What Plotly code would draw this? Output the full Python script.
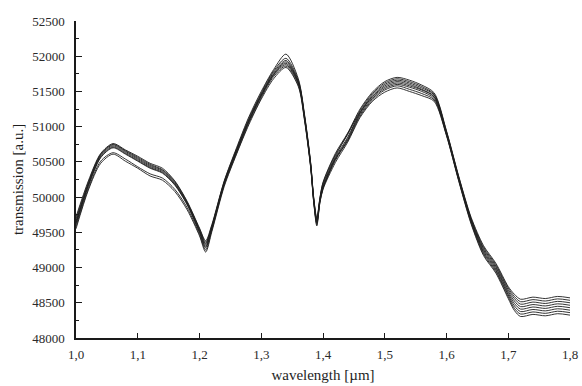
import plotly.graph_objects as go

wavelength = [1.00, 1.02, 1.04, 1.06, 1.08, 1.10, 1.12, 1.14, 1.16, 1.18,
              1.20, 1.21, 1.22, 1.24, 1.26, 1.28, 1.30, 1.32, 1.34, 1.36,
              1.37, 1.38, 1.385, 1.39, 1.395, 1.40, 1.42, 1.44, 1.46, 1.48,
              1.50, 1.52, 1.54, 1.56, 1.58, 1.60, 1.62, 1.64, 1.66, 1.68,
              1.70, 1.71, 1.72, 1.74, 1.76, 1.78, 1.80]

s1 = [49720, 50230, 50620, 50760, 50670, 50580, 50480, 50410, 50230, 49940,
      49560, 49380, 49610, 50230, 50700, 51140, 51500, 51810, 52030, 51680,
      51180, 50490, 49990, 49700, 49990, 50210, 50620, 50910, 51250, 51490,
      51640, 51700, 51660, 51590, 51480, 50940, 50290, 49710, 49310, 49060,
      48730, 48620, 48550, 48580, 48560, 48590, 48570]
s2 = [49690, 50210, 50610, 50750, 50660, 50565, 50465, 50390, 50220, 49930,
      49550, 49360, 49595, 50220, 50685, 51120, 51480, 51790, 51970, 51660,
      51160, 50480, 49980, 49680, 49980, 50200, 50600, 50890, 51230, 51470,
      51620, 51680, 51640, 51570, 51460, 50930, 50280, 49695, 49290, 49040,
      48710, 48590, 48515, 48545, 48525, 48555, 48535]
s3 = [49660, 50190, 50600, 50740, 50650, 50550, 50450, 50380, 50205, 49920,
      49535, 49340, 49580, 50210, 50670, 51100, 51460, 51770, 51940, 51640,
      51150, 50470, 49970, 49670, 49970, 50180, 50580, 50900, 51210, 51450,
      51600, 51660, 51620, 51550, 51450, 50920, 50270, 49680, 49270, 49020,
      48685, 48560, 48480, 48510, 48490, 48520, 48500]
s4 = [49640, 50180, 50585, 50725, 50635, 50535, 50435, 50365, 50190, 49910,
      49520, 49320, 49570, 50200, 50660, 51090, 51450, 51750, 51920, 51630,
      51140, 50460, 49960, 49650, 49960, 50160, 50560, 50850, 51200, 51430,
      51580, 51640, 51600, 51530, 51430, 50910, 50260, 49670, 49250, 49000,
      48660, 48525, 48445, 48475, 48455, 48485, 48465]
s5 = [49630, 50170, 50570, 50710, 50620, 50520, 50420, 50350, 50180, 49900,
      49510, 49300, 49560, 50190, 50650, 51080, 51440, 51740, 51900, 51620,
      51130, 50450, 49950, 49640, 49950, 50140, 50540, 50830, 51190, 51420,
      51560, 51620, 51580, 51520, 51420, 50900, 50250, 49660, 49230, 48980,
      48635, 48490, 48410, 48440, 48420, 48450, 48430]
s6 = [49610, 50150, 50560, 50700, 50610, 50510, 50410, 50340, 50170, 49890,
      49495, 49280, 49550, 50180, 50640, 51070, 51430, 51730, 51880, 51610,
      51120, 50440, 49940, 49630, 49940, 50130, 50520, 50810, 51170, 51400,
      51540, 51600, 51560, 51500, 51400, 50890, 50240, 49645, 49210, 48960,
      48610, 48455, 48375, 48405, 48385, 48415, 48395]
s7 = [49580, 50120, 50510, 50630, 50540, 50430, 50330, 50270, 50110, 49850,
      49470, 49250, 49530, 50170, 50620, 51050, 51410, 51710, 51860, 51590,
      51110, 50430, 49930, 49610, 49930, 50120, 50540, 50800, 51150, 51380,
      51520, 51580, 51530, 51470, 51380, 50880, 50230, 49630, 49190, 48940,
      48585, 48420, 48340, 48370, 48350, 48380, 48360]
s8 = [49550, 50100, 50480, 50610, 50510, 50410, 50300, 50240, 50080, 49820,
      49450, 49220, 49510, 50150, 50610, 51030, 51390, 51680, 51840, 51570,
      51090, 50420, 49920, 49590, 49920, 50110, 50490, 50780, 51130, 51360,
      51490, 51550, 51500, 51440, 51360, 50870, 50220, 49615, 49170, 48920,
      48560, 48390, 48305, 48335, 48315, 48345, 48325]

x_tick_vals = [1.0, 1.1, 1.2, 1.3, 1.4, 1.5, 1.6, 1.7, 1.8]
x_tick_text = ["1,0", "1,1", "1,2", "1,3", "1,4", "1,5", "1,6", "1,7", "1,8"]
y_tick_vals = [48000, 48500, 49000, 49500, 50000, 50500, 51000, 51500, 52000, 52500]

fig = go.Figure()
for s in [s1, s2, s3, s4, s5, s6, s7, s8]:
    fig.add_trace(go.Scatter(x=wavelength, y=s, mode="lines",
                             line=dict(color="#1e1e1e", width=0.9, shape="spline", smoothing=0.8),
                             showlegend=False, hoverinfo="skip", cliponaxis=False))

FF = "Liberation Serif"
fig.update_layout(
    width=582, height=386,
    margin=dict(l=76, r=12, t=21, b=48, autoexpand=False),
    paper_bgcolor="white", plot_bgcolor="white",
    font=dict(family=FF, size=13, color="#2a2a2a"),
)
fig.update_xaxes(
    range=[1.0, 1.8], tickvals=x_tick_vals, ticktext=x_tick_text, automargin=False,
    showgrid=False, zeroline=False, showline=True, linecolor="#1a1a1a", linewidth=1.5,
    ticks="inside", ticklen=5, tickwidth=1.3, tickcolor="#1a1a1a",
    tickfont=dict(family=FF, size=13, color="#2a2a2a"),
    ticklabelstandoff=4,
    title=dict(text="wavelength [µm]", font=dict(family=FF, size=15, color="#1e1e1e"), standoff=8),
)
fig.update_yaxes(
    range=[48000, 52500], tickvals=y_tick_vals, ticktext=[str(v) for v in y_tick_vals],
    automargin=False,
    showgrid=False, zeroline=False, showline=True, linecolor="#1a1a1a", linewidth=1.5,
    ticks="inside", ticklen=6, tickwidth=1.3, tickcolor="#1a1a1a",
    minor=dict(dtick=250, ticks="inside", ticklen=3, tickwidth=1, tickcolor="#1a1a1a"),
    tickfont=dict(family=FF, size=13, color="#2a2a2a"),
    ticklabelstandoff=7,
    title=dict(text="transmission [a.u.]", font=dict(family=FF, size=15, color="#1e1e1e"), standoff=5),
)

fig.write_html(
    "out.html",
    config={"displayModeBar": False},
    post_script="document.body.style.margin='0';document.body.style.overflow='hidden';",
)
